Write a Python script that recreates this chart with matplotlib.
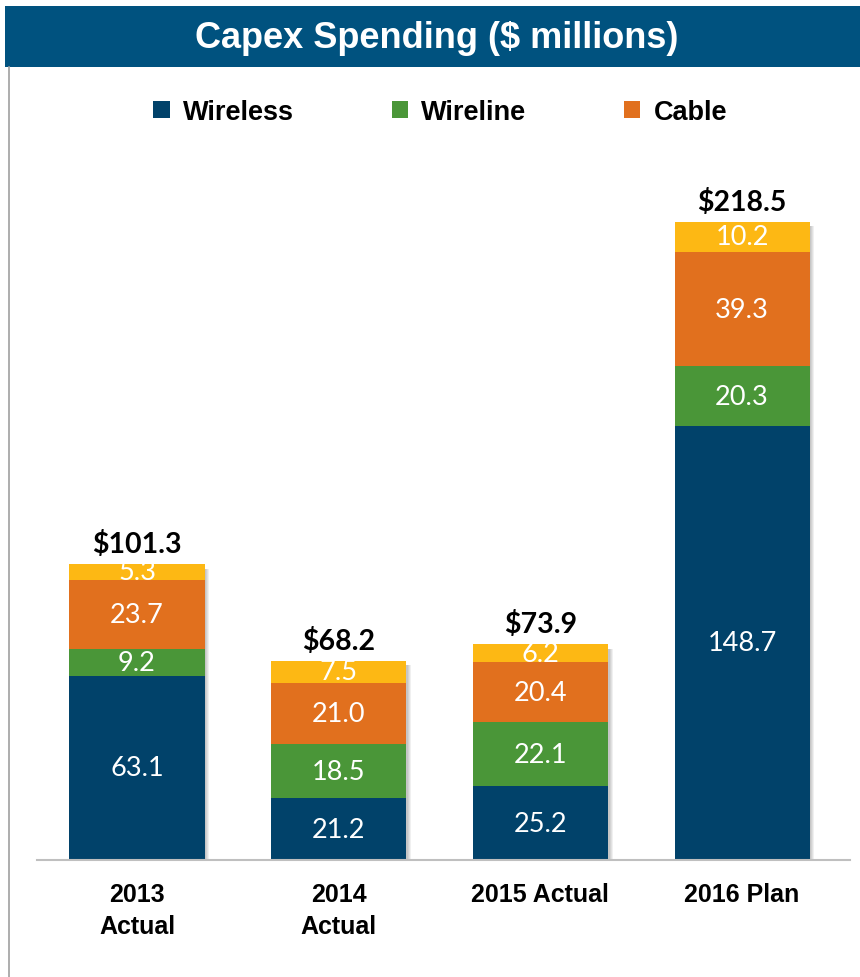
import numpy as np
import matplotlib
matplotlib.use('Agg')
import matplotlib.pyplot as plt
from matplotlib.patches import Rectangle

categories = ['2013\nActual', '2014\nActual', '2015 Actual', '2016 Plan']
wireless = [63.1, 21.2, 25.2, 148.7]
wireline = [9.2, 18.5, 22.1, 20.3]
cable = [23.7, 21.0, 20.4, 39.3]
other = [5.3, 7.5, 6.2, 10.2]
totals = ['$101.3', '$68.2', '$73.9', '$218.5']

series = [('Wireless', wireless, '#01426a'),
          ('Wireline', wireline, '#4a9638'),
          ('Cable', cable, '#e1701e'),
          (None, other, '#fdb814')]

narrow = ['Liberation Sans Narrow', 'Liberation Sans', 'DejaVu Sans']
body = ['Lato', 'DejaVu Sans']

fig = plt.figure(figsize=(8.6, 9.78), dpi=100)

# title band
fig.patches.append(Rectangle((0.006, 1 - 68/978), 1.0, 61/978, transform=fig.transFigure,
                             facecolor='#00527f', edgecolor='none'))
fig.text(0.508, 1 - 39/978, 'Capex Spending ($ millions)', color='white', fontsize=26,
         fontweight='bold', ha='center', va='center', family=['Liberation Sans', 'DejaVu Sans'])
# left frame line
fig.add_artist(plt.Line2D([9/860, 9/860], [0, 1 - 68/978], transform=fig.transFigure,
                          color='#a0a0a0', lw=1.2))

ax = fig.add_axes([37/860, 1 - 861/978, 813/860, 681/978])
x = np.arange(len(categories))
width = 0.67
bottom = np.zeros(len(categories))
tot = np.array(wireless) + np.array(wireline) + np.array(cable) + np.array(other)

# soft shadow on the right of each bar
for k in range(4):
    ax.bar(x + 0.008 + k * 0.005, tot - 1.5, width, color='#000000', alpha=0.06, zorder=1)

for name, vals, col in series:
    vals = np.array(vals)
    ax.bar(x, vals, width, bottom=bottom, color=col, label=name if name else '_nolegend_', zorder=2)
    for xi, b, v in zip(x, bottom, vals):
        ax.text(xi, b + v / 2, f'{v:.1f}', ha='center', va='center', color='white',
                fontsize=19.5, family=body, zorder=3)
    bottom += vals

for xi, t, lab in zip(x, tot, totals):
    ax.text(xi, t + 2.5, lab, ha='center', va='bottom', fontsize=20.5, fontweight='bold',
            family=body, color='black')

ax.set_xlim(-0.496, 3.535)
ax.set_ylim(0, 233.2)
ax.set_yticks([])
ax.set_xticks(x)
ax.set_xticklabels(categories, fontsize=18, fontweight='bold', family=narrow, linespacing=1.4)
ax.tick_params(axis='x', length=0, pad=16)
for s in ['top', 'right', 'left']:
    ax.spines[s].set_visible(False)
ax.spines['bottom'].set_color('#bfbfbf')
ax.spines['bottom'].set_linewidth(1.5)

leg = fig.legend(loc='center', bbox_to_anchor=(0.512, 1 - 113/978), ncol=3, frameon=False,
                 prop={'family': narrow, 'weight': 'bold', 'size': 19.5},
                 handlelength=0.6, handleheight=0.6, handletextpad=0.5, columnspacing=3.6)

fig.savefig('out.png', dpi=100)
